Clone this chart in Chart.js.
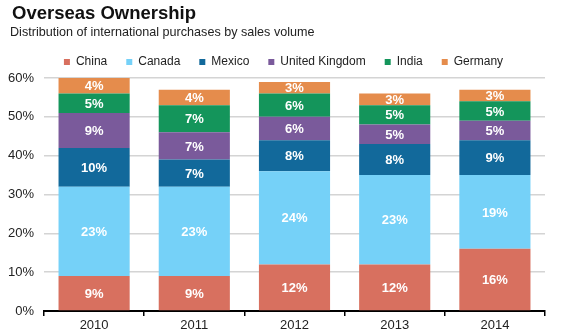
<!DOCTYPE html>
<html>
<head>
<meta charset="utf-8">
<script src="https://cdn.jsdelivr.net/npm/chart.js@4"></script>
<style>
  html, body { margin: 0; padding: 0; background: #fff; }
  #wrap { width: 565px; height: 335px; position: relative; font-family: "Liberation Sans", Arial, sans-serif; }
  #wrap canvas { position: absolute; left: 0; top: 0; }
  .title { position: absolute; left: 12px; top: 3px; font-size: 18.5px; line-height: 20px; font-weight: bold; color: #111; }
  .subtitle { position: absolute; left: 10px; top: 25px; font-size: 12.6px; line-height: 15px; color: #222; }
</style>
</head>
<body>
<div id="wrap">
  <canvas id="ownershipChart" width="565" height="335"></canvas>
  <div class="title">Overseas Ownership</div>
  <div class="subtitle">Distribution of international purchases by sales volume</div>
</div>
<script>
// Share of international purchases (%), by buyer country
const years = ['2010', '2011', '2012', '2013', '2014'];
const china = [9, 9, 12, 12, 16];
const canada = [23, 23, 24, 23, 19];
const mexico = [10, 7, 8, 8, 9];
const unitedKingdom = [9, 7, 6, 5, 5];
const india = [5, 7, 6, 5, 5];
const germany = [4, 4, 3, 3, 3];
const yTicks = [0, 10, 20, 30, 40, 50, 60];

const FONT = '"Liberation Sans", Arial, sans-serif';

// draws the value in the middle of each stacked segment
const segmentLabels = {
    id: 'segmentLabels',
    afterDatasetsDraw(chart) {
        const ctx = chart.ctx;
        ctx.save();
        ctx.font = 'bold 13px ' + FONT;
        ctx.fillStyle = '#fff';
        ctx.textAlign = 'center';
        ctx.textBaseline = 'middle';
        chart.data.datasets.forEach((ds, i) => {
            chart.getDatasetMeta(i).data.forEach((bar, j) => {
                const mid = (bar.y + bar.base) / 2;
                ctx.fillText(ds.data[j] + '%', bar.x, mid + 1);
            });
        });
        ctx.restore();
    }
};

// nudge the legend row to the right so it sits over the plot
const legendShift = {
    id: 'legendShift',
    afterLayout(chart) {
        chart.legend.left += 11;
        chart.legend.right += 11;
    }
};

const series = [
    { label: 'China', data: china, color: '#d8705f' },
    { label: 'Canada', data: canada, color: '#75d1f8' },
    { label: 'Mexico', data: mexico, color: '#12699b' },
    { label: 'United Kingdom', data: unitedKingdom, color: '#7a5a9b' },
    { label: 'India', data: india, color: '#14955b' },
    { label: 'Germany', data: germany, color: '#e58c4c' }
];

new Chart(document.getElementById('ownershipChart'), {
    type: 'bar',
    data: {
        labels: years,
        datasets: series.map(s => ({
            label: s.label,
            data: s.data,
            backgroundColor: s.color,
            borderWidth: 0,
            barPercentage: 0.71,
            categoryPercentage: 1.0
        }))
    },
    options: {
        responsive: false,
        animation: false,
        layout: { padding: { left: 0, right: 20, top: 37, bottom: 0 } },
        plugins: {
            legend: {
                position: 'top',
                labels: {
                    color: '#222',
                    font: { family: FONT, size: 12 },
                    usePointStyle: true,
                    pointStyle: 'rect',
                    boxWidth: 6,
                    boxHeight: 6,
                    padding: 19
                }
            },
            tooltip: { enabled: false }
        },
        scales: {
            x: {
                stacked: true,
                border: { color: '#000', width: 2 },
                grid: {
                    offset: true,
                    drawOnChartArea: false,
                    drawTicks: true,
                    tickLength: 5,
                    color: '#000',
                    lineWidth: 1.5
                },
                afterFit(axis) { axis.height = 24; },
                ticks: { color: '#222', font: { family: FONT, size: 13 }, padding: 2 }
            },
            y: {
                stacked: true,
                min: 0,
                max: 60,
                border: { display: false },
                grid: { color: '#d4d4d4', lineWidth: 1.5, drawTicks: false },
                afterFit(axis) { axis.width = 44; },
                afterBuildTicks(axis) {
                    axis.ticks = yTicks.map(v => ({ value: v }));
                },
                ticks: {
                    color: '#222',
                    font: { family: FONT, size: 13 },
                    padding: 10,
                    callback: v => v + '%'
                }
            }
        }
    },
    plugins: [segmentLabels, legendShift]
});
</script>
</body>
</html>
